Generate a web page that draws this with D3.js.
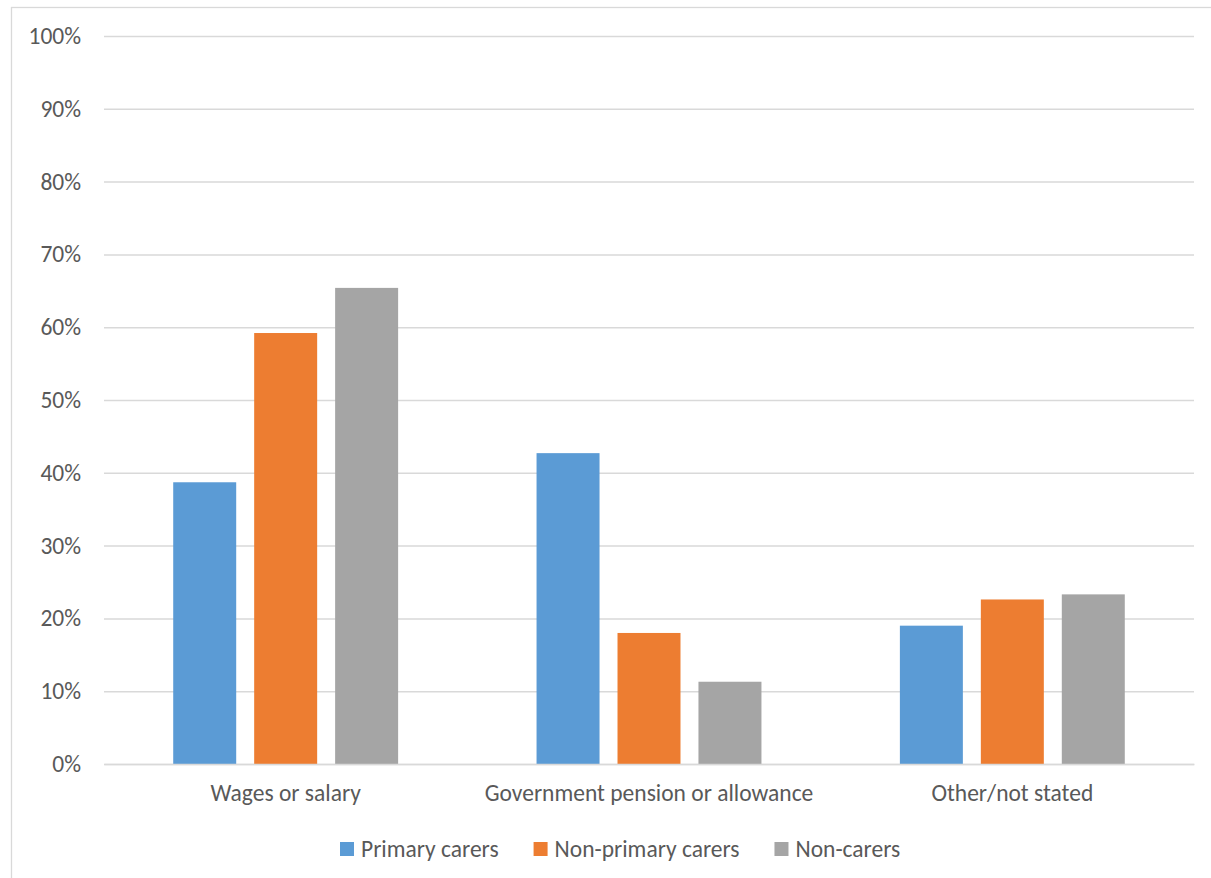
<!DOCTYPE html>
<html>
<head>
<meta charset="utf-8">
<script src="https://cdn.jsdelivr.net/npm/d3@7"></script>
<style>
  html, body { margin: 0; padding: 0; background: #fff; }
  svg { display: block; font-family: Carlito, Calibri, Lato, "Open Sans", sans-serif; }
</style>
</head>
<body>
<svg id="chart" width="1211" height="878"></svg>
<script>
// Main source of income by carer status (share of people, %)
const categories = ["Wages or salary", "Government pension or allowance", "Other/not stated"];
const seriesNames = ["Primary carers", "Non-primary carers", "Non-carers"];
const primaryCarers = [38.7, 42.7, 19.0];
const nonPrimaryCarers = [59.2, 18.0, 22.6];
const nonCarers = [65.4, 11.3, 23.3];
const yTicks = [0, 10, 20, 30, 40, 50, 60, 70, 80, 90, 100];
const seriesColors = ["#5B9BD5", "#ED7D31", "#A5A5A5"];

const seriesValues = [primaryCarers, nonPrimaryCarers, nonCarers];
const rows = categories.map((c, i) => ({
  category: c,
  values: seriesNames.map((s, j) => ({ series: s, value: seriesValues[j][i] }))
}));

const svg = d3.select("#chart");
const W = 1211, H = 878;
const plot = { left: 104, right: 1194, top: 36, bottom: 764 };
const FONT = 23.5;

// chart area frame
svg.append("rect")
  .attr("x", 11.5).attr("y", 7.5)
  .attr("width", W + 20).attr("height", H + 20)
  .attr("fill", "#fff").attr("stroke", "#d9d9d9").attr("stroke-width", 1.3);

const y = d3.scaleLinear().domain([0, 100]).range([plot.bottom, plot.top]);
const x0 = d3.scaleBand().domain(categories).range([plot.left, plot.right])
  .paddingInner(0.381).paddingOuter(0.1905);
const x1 = d3.scaleBand().domain(seriesNames).range([0, x0.bandwidth()]).paddingInner(0.222);
const color = d3.scaleOrdinal().domain(seriesNames).range(seriesColors);

// horizontal gridlines + y labels
const yAxis = d3.axisLeft(y).tickValues(yTicks)
  .tickSize(-(plot.right - plot.left)).tickPadding(23)
  .tickFormat(d => d + "%");
const gy = svg.append("g").attr("transform", `translate(${plot.left},0)`).call(yAxis);
gy.select(".domain").remove();
gy.selectAll(".tick line").attr("stroke", "#d9d9d9").attr("stroke-width", 1.5);
gy.selectAll(".tick text").attr("fill", "#595959").attr("font-size", FONT)
  .attr("font-family", "Carlito, Calibri, Lato, sans-serif");

// bars
svg.append("g").selectAll("g").data(rows).join("g")
  .attr("transform", d => `translate(${x0(d.category)},0)`)
  .selectAll("rect").data(d => d.values).join("rect")
  .attr("x", d => x1(d.series))
  .attr("width", x1.bandwidth())
  .attr("y", d => y(d.value))
  .attr("height", d => y(0) - y(d.value))
  .attr("fill", d => color(d.series));

// category axis
const xAxis = d3.axisBottom(x0).tickSize(0).tickPadding(20);
const gx = svg.append("g").attr("transform", `translate(0,${plot.bottom})`).call(xAxis);
gx.select(".domain").attr("stroke", "#d9d9d9").attr("stroke-width", 1.5);
gx.selectAll(".tick text").attr("fill", "#595959").attr("font-size", FONT)
  .attr("font-family", "Carlito, Calibri, Lato, sans-serif");

// legend: swatch + label, items laid out left to right
const sw = 14, swGap = 7, itemGap = 35;
const lg = svg.append("g").attr("transform", "translate(340,842)");
let cursor = 0;
seriesNames.forEach(name => {
  const item = lg.append("g").attr("transform", `translate(${cursor},0)`);
  item.append("rect").attr("width", sw).attr("height", sw).attr("fill", color(name));
  const t = item.append("text").attr("x", sw + swGap).attr("y", sw / 2).attr("dy", "0.35em")
    .attr("fill", "#595959").attr("font-size", FONT).text(name);
  cursor += sw + swGap + t.node().getComputedTextLength() + itemGap;
});
</script>
</body>
</html>
